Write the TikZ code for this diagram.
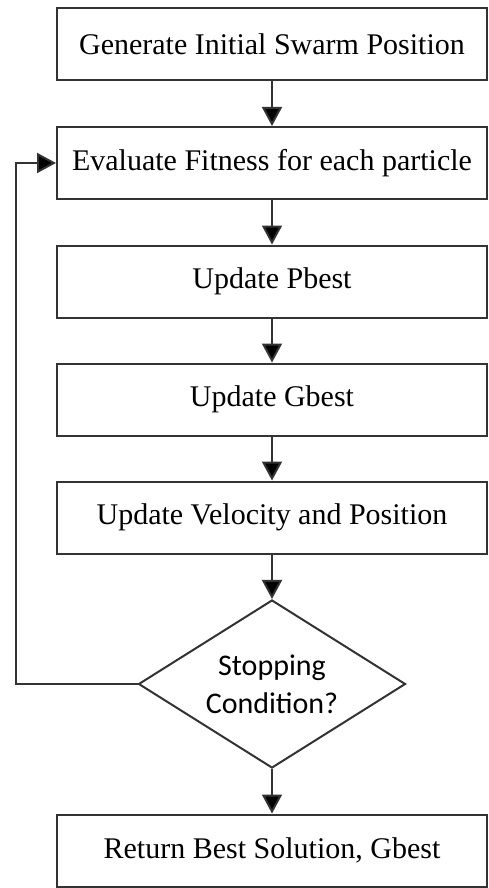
\documentclass[tikz,border=0pt]{standalone}
\usepackage{fontspec}
\setmainfont{Liberation Serif}
\newfontfamily\calib{Carlito}
\usetikzlibrary{arrows.meta,shapes.geometric}
\definecolor{edge}{HTML}{333333}
\begin{document}
\begin{tikzpicture}[x=1pt,y=-1pt,
  procbox/.style={draw=edge,line width=2pt,minimum width=430pt,minimum height=72pt,
    inner sep=0pt,font=\fontsize{30}{34}\selectfont,text=black},
  decide/.style={draw=edge,line width=2pt,diamond,minimum width=267pt,minimum height=168pt,
    inner sep=0pt,aspect=1.6,font=\calib\fontsize{30}{38}\selectfont,align=center},
  flow/.style={line width=2pt,draw=edge,-{Triangle[width=20pt,length=19pt,fill=black]}}]
\useasboundingbox (0,0) rectangle (489,888);
\node[procbox] (gen) at (272,44.5) {Generate Initial Swarm Position};
\node[procbox] (eval) at (272,163) {Evaluate Fitness for each particle};
\node[procbox] (pb) at (272,281.5) {Update Pbest};
\node[procbox] (gb) at (272,399.5) {Update Gbest};
\node[procbox] (vel) at (272,517.5) {Update Velocity and Position};
\node[decide] (stop) at (272,684) {Stopping\\Condition?};
\node[procbox] (ret) at (272,850.5) {Return Best Solution, Gbest};
\coordinate (lp) at (16,0);
\draw[flow] (gen) -- (eval);
\draw[flow] (eval) -- (pb);
\draw[flow] (pb) -- (gb);
\draw[flow] (gb) -- (vel);
\draw[flow] (vel) -- (stop);
\draw[flow] (stop) -- (ret);
\draw[flow] (stop.west) -- (stop.west -| lp) -- (eval.west -| lp) -- (eval.west);
\end{tikzpicture}
\end{document}
